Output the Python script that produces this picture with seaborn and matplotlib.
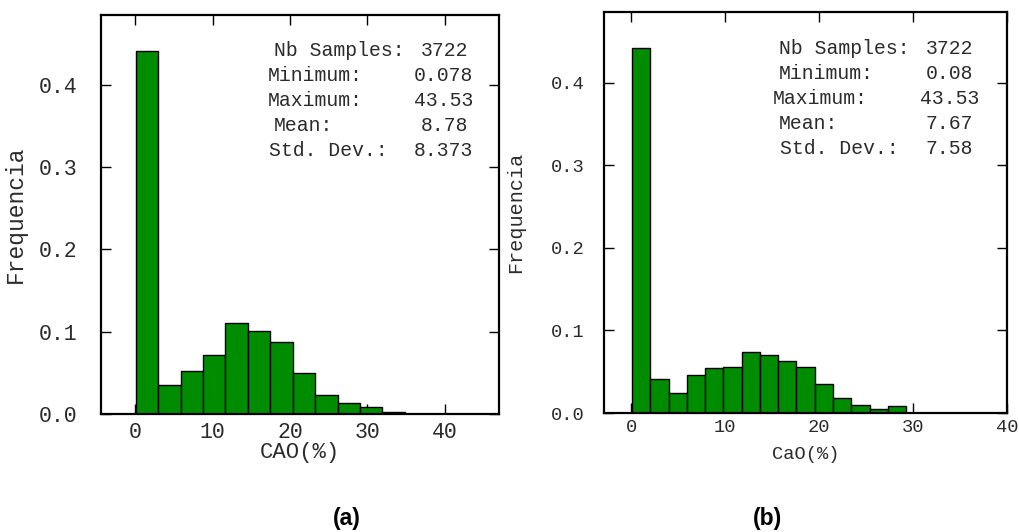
import numpy as np
import pandas as pd
import matplotlib
matplotlib.use("Agg")
import matplotlib.pyplot as plt
import seaborn as sns

# Relative frequencies per class, panel (a): CAO, 15 classes between min and max
freq_a = [0.4407, 0.0352, 0.0520, 0.0717, 0.1106, 0.1010, 0.0880, 0.0500,
          0.0230, 0.0137, 0.0081, 0.0020, 0.0006, 0.0003, 0.0003]
min_a, max_a = 0.078, 43.53

# Panel (b): CaO, classes of about 1.95 % starting at the minimum
freq_b = [0.4420, 0.0412, 0.0246, 0.0460, 0.0545, 0.0557, 0.0734, 0.0702,
          0.0633, 0.0552, 0.0351, 0.0182, 0.0097, 0.0052, 0.0080]
min_b, width_b = 0.08, 1.945

stat_names = ["Nb Samples:", "Minimum:", "Maximum:", "Mean:", "Std. Dev.:"]
stats_a = ["3722", "0.078", "43.53", "8.78", "8.373"]
stats_b = ["3722", "0.08", "43.53", "7.67", "7.58"]

xticks_a = [0, 10, 20, 30, 40]
xticks_b = [0, 10, 20, 30, 40]
yticks = [0.0, 0.1, 0.2, 0.3, 0.4]

sns.set_theme(style="white")
plt.rcParams["font.family"] = ["Liberation Mono", "DejaVu Sans"]

TXT = "#2b2b2b"
W, H = 1019, 532
fig = plt.figure(figsize=(W / 100, H / 100), dpi=100)

def box(l, t, r, b):
    return [l / W, 1 - b / H, (r - l) / W, (b - t) / H]

ax_a = fig.add_axes(box(101, 15, 499, 414))
ax_b = fig.add_axes(box(604, 12, 1007, 413))

BAR = "#008c00"

def draw(ax, edges, freq):
    edges = [float(e) for e in edges]
    centers = [(a + b) / 2 for a, b in zip(edges[:-1], edges[1:])]
    df = pd.DataFrame({"x": centers, "f": freq})
    sns.histplot(data=df, x="x", weights="f", bins=edges, stat="count",
                 color=BAR, edgecolor="black", linewidth=1.0, alpha=1.0, ax=ax)

edges_a = np.linspace(min_a, max_a, len(freq_a) + 1)
edges_b = min_b + width_b * np.arange(len(freq_b) + 1)
draw(ax_a, edges_a, freq_a)
draw(ax_b, edges_b, freq_b)

def style(ax, xlim, ylim, xticks, fs_tick, xpad, ypad, xlabel, fs_xl, fs_yl):
    ax.set_xlim(*xlim)
    ax.set_ylim(*ylim)
    ax.set_xticks(xticks)
    ax.set_yticks(yticks)
    ax.set_yticklabels([f"{v:.1f}" for v in yticks])
    for s in ax.spines.values():
        s.set_visible(True)
        s.set_color("black")
        s.set_linewidth(1.6)
    ax.tick_params(axis="both", which="both", direction="in", length=7,
                   width=1.0, color="black", top=True, right=True,
                   bottom=True, left=True, labelsize=fs_tick, labelcolor=TXT)
    ax.tick_params(axis="x", pad=xpad)
    ax.tick_params(axis="y", pad=ypad)
    ax.set_xlabel(xlabel, fontsize=fs_xl, color=TXT, labelpad=0)
    ax.set_ylabel("Frequencia", fontsize=fs_yl, color=TXT)
    ax.grid(False)

style(ax_a, (-4.4, 47.0), (0, 0.485), xticks_a, 15.5, 6, 17, "CAO(%)", 16, 16.5)
style(ax_b, (-2.9, 40.0), (0, 0.4855), xticks_b, 13.5, 4, 14, "CaO(%)", 13.5, 14.5)
ax_a.yaxis.set_label_coords(-0.186, 0.5)
ax_b.yaxis.set_label_coords(-0.196, 0.5)
ax_a.xaxis.set_label_coords(0.5, -0.07)
ax_b.xaxis.set_label_coords(0.5, -0.082)

def stats_box(ax, values, lab_x, val_x, y0, dy):
    for i, (name, val) in enumerate(zip(stat_names, values)):
        y = y0 - i * dy
        ax.text(lab_x[i], y, name, transform=ax.transAxes, fontsize=14.2,
                ha="left", va="center", color=TXT)
        ax.text(val_x[i], y, val, transform=ax.transAxes, fontsize=14.2,
                ha="right", va="center", color=TXT)

stats_box(ax_a, stats_a,
          [0.435, 0.420, 0.420, 0.435, 0.423],
          [0.922, 0.935, 0.935, 0.922, 0.935], 0.912, 0.0627)
stats_box(ax_b, stats_b,
          [0.434, 0.434, 0.419, 0.434, 0.437],
          [0.916, 0.916, 0.931, 0.916, 0.916], 0.910, 0.0623)

fig.text(347 / W, 1 - 518 / H, "(a)", fontsize=16.5, fontweight="bold",
         family="Liberation Sans", ha="center", va="center", color="black")
fig.text(768 / W, 1 - 519 / H, "(b)", fontsize=16.5, fontweight="bold",
         family="Liberation Sans", ha="center", va="center", color="black")

fig.savefig("out.png", dpi=100, facecolor="white")
